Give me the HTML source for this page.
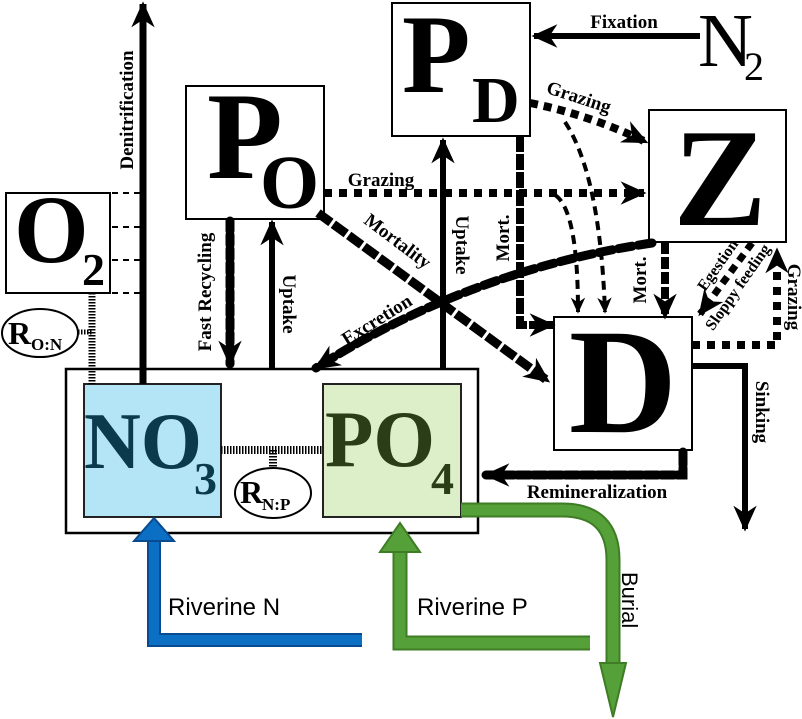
<!DOCTYPE html>
<html><head><meta charset="utf-8"><style>
html,body{margin:0;padding:0;background:#fff;}
svg{display:block;}
.b{font-family:"Liberation Serif",serif;font-weight:bold;}
.l{font-family:"Liberation Serif",serif;font-weight:bold;}
.s{font-family:"Liberation Sans",sans-serif;}
</style></head><body>
<svg width="802" height="719" viewBox="0 0 802 719" xmlns="http://www.w3.org/2000/svg">
<defs>
<marker id="ah" viewBox="0 0 20 20" refX="18" refY="10" markerWidth="26" markerHeight="26" markerUnits="userSpaceOnUse" orient="auto">
<path d="M0,1 L20,10 L0,19 L6,10 Z" fill="#000"/></marker>
<marker id="ahs" viewBox="0 0 20 20" refX="18" refY="10" markerWidth="16" markerHeight="16" markerUnits="userSpaceOnUse" orient="auto">
<path d="M0,1 L20,10 L0,19 L6,10 Z" fill="#000"/></marker>
</defs>

<rect x="66" y="369" width="412" height="164" fill="#fff" stroke="#000" stroke-width="2.5"/>
<rect x="84" y="384" width="137" height="133" fill="#b3e5f7" stroke="#222" stroke-width="2"/>
<rect x="323" y="384" width="138" height="133" fill="#dcefc9" stroke="#222" stroke-width="2"/>
<text x="84" y="468" class="b" font-size="80" fill="#0b3a4c" textLength="118" lengthAdjust="spacingAndGlyphs">NO</text>
<text x="194" y="494" class="b" font-size="46" fill="#0b3a4c">3</text>
<text x="325" y="466" class="b" font-size="80" fill="#2b3d17" textLength="110" lengthAdjust="spacingAndGlyphs">PO</text>
<text x="431" y="494" class="b" font-size="46" fill="#2b3d17">4</text>

<line x1="221" y1="450" x2="323" y2="450" stroke="#000" stroke-width="8" stroke-dasharray="1.5,1.5"/>
<line x1="273" y1="450" x2="273" y2="468" stroke="#000" stroke-width="8" stroke-dasharray="1.5,1.5"/>
<ellipse cx="273" cy="493" rx="38" ry="25" fill="#fff" stroke="#000" stroke-width="2"/>
<text x="240" y="503" class="b" font-size="32">R</text>
<text x="262" y="510" class="b" font-size="17">N:P</text>

<rect x="6" y="193" width="104" height="100" fill="#fff" stroke="#000" stroke-width="2"/>
<text x="14" y="262" class="b" font-size="96">O</text>
<text x="82" y="285" class="b" font-size="46">2</text>
<g stroke="#000" stroke-width="2" stroke-dasharray="6,5">
<line x1="112" y1="193" x2="140" y2="193"/><line x1="112" y1="227" x2="140" y2="227"/>
<line x1="112" y1="260" x2="140" y2="260"/><line x1="112" y1="293" x2="140" y2="293"/></g>
<line x1="92" y1="293" x2="92" y2="384" stroke="#000" stroke-width="7" stroke-dasharray="1.5,1.5"/>
<line x1="78" y1="332" x2="92" y2="332" stroke="#000" stroke-width="5" stroke-dasharray="1.5,1.5"/>
<ellipse cx="40" cy="333" rx="38" ry="24" fill="#fff" stroke="#000" stroke-width="2"/>
<text x="8" y="344" class="b" font-size="32">R</text>
<text x="31" y="350" class="b" font-size="17">O:N</text>

<line x1="143" y1="384" x2="143" y2="4" stroke="#000" stroke-width="7" marker-end="url(#ah)"/>
<text transform="translate(133,110) rotate(-90)" text-anchor="middle" class="l" font-size="19">Denitrification</text>

<rect x="186" y="86" width="138" height="133" fill="#fff" stroke="#000" stroke-width="2"/>
<text x="207" y="178" class="b" font-size="124">P</text>
<text x="260" y="208" class="b" font-size="76">O</text>

<line x1="230" y1="221" x2="230" y2="364" stroke="#000" stroke-width="9" stroke-dasharray="10,4" stroke-linecap="round" marker-end="url(#ah)"/>
<text transform="translate(211,292) rotate(-90)" text-anchor="middle" class="l" font-size="19">Fast Recycling</text>
<line x1="272" y1="369" x2="272" y2="222" stroke="#000" stroke-width="6" marker-end="url(#ah)"/>
<text transform="translate(283,304) rotate(90)" text-anchor="middle" class="l" font-size="19">Uptake</text>

<rect x="392" y="3" width="138" height="133" fill="#fff" stroke="#000" stroke-width="2"/>
<text x="402" y="92" class="b" font-size="112">P</text>
<text x="472" y="122" class="b" font-size="66">D</text>

<text x="698" y="66" font-family="Liberation Serif,serif" font-size="76">N</text>
<text x="744" y="80" font-family="Liberation Serif,serif" font-size="40">2</text>
<line x1="700" y1="36" x2="534" y2="36" stroke="#000" stroke-width="6" marker-end="url(#ah)"/>
<text x="624" y="28" text-anchor="middle" class="l" font-size="19">Fixation</text>

<rect x="649" y="110" width="137" height="132" fill="#fff" stroke="#000" stroke-width="2"/>
<text x="720" y="225" text-anchor="middle" class="b" font-size="140">Z</text>

<rect x="554" y="317" width="138" height="133" fill="#fff" stroke="#000" stroke-width="2"/>
<text x="623" y="432" text-anchor="middle" class="b" font-size="150">D</text>

<line x1="443" y1="369" x2="443" y2="140" stroke="#000" stroke-width="6" marker-end="url(#ah)"/>
<text transform="translate(456,245) rotate(90)" text-anchor="middle" class="l" font-size="19">Uptake</text>

<path d="M520,136 L520,325 L553,325" fill="none" stroke="#000" stroke-width="8" stroke-dasharray="16,2" marker-end="url(#ah)"/>
<text transform="translate(509,238) rotate(-90)" text-anchor="middle" class="l" font-size="19">Mort.</text>

<line x1="324" y1="193" x2="644" y2="193" stroke="#000" stroke-width="8" stroke-dasharray="8,7" marker-end="url(#ah)"/>
<text x="381" y="186" text-anchor="middle" class="l" font-size="19">Grazing</text>

<path d="M530,103 Q590,115 646,142" fill="none" stroke="#000" stroke-width="8" stroke-dasharray="8,6" marker-end="url(#ah)"/>
<text transform="translate(577,103) rotate(18)" text-anchor="middle" class="l" font-size="19">Grazing</text>

<path d="M555,195 Q578,210 578,312" fill="none" stroke="#000" stroke-width="4" stroke-dasharray="9,6" marker-end="url(#ahs)"/>
<path d="M565,122 Q600,175 605,312" fill="none" stroke="#000" stroke-width="4" stroke-dasharray="9,6" marker-end="url(#ahs)"/>

<line x1="318" y1="213" x2="548" y2="381" stroke="#000" stroke-width="9" stroke-dasharray="16,3" marker-end="url(#ah)"/>
<text transform="translate(394,246) rotate(37)" text-anchor="middle" class="l" font-size="19">Mortality</text>

<path d="M652,243 Q470,270 316,368" fill="none" stroke="#000" stroke-width="9" stroke-dasharray="14,6" stroke-linecap="round" marker-end="url(#ah)"/>
<text transform="translate(380,325) rotate(-32)" text-anchor="middle" class="l" font-size="19">Excretion</text>

<line x1="665" y1="242" x2="665" y2="317" stroke="#000" stroke-width="8" stroke-dasharray="12,3" marker-end="url(#ah)"/>
<text transform="translate(646,280) rotate(-90)" text-anchor="middle" class="l" font-size="19">Mort.</text>

<line x1="752" y1="243" x2="700" y2="314" stroke="#000" stroke-width="7" stroke-dasharray="8,6" marker-end="url(#ah)"/>
<text transform="translate(722,268) rotate(-55)" text-anchor="middle" class="l" font-size="16">Egestion</text>
<text transform="translate(742,290) rotate(-55)" text-anchor="middle" class="l" font-size="16">Sloppy feeding</text>

<path d="M692,345 L777,345 L777,250" fill="none" stroke="#000" stroke-width="8" stroke-dasharray="8,7" marker-end="url(#ah)"/>
<text transform="translate(788,297) rotate(90)" text-anchor="middle" class="l" font-size="19">Grazing</text>

<path d="M692,366 L745,366 L745,529" fill="none" stroke="#000" stroke-width="6" marker-end="url(#ah)"/>
<text transform="translate(756,412) rotate(90)" text-anchor="middle" class="l" font-size="19">Sinking</text>

<path d="M683,452 L683,475 L486,475" fill="none" stroke="#000" stroke-width="9" stroke-dasharray="13,3" stroke-linecap="round" marker-end="url(#ah)"/>
<text x="597" y="498" text-anchor="middle" class="l" font-size="19">Remineralization</text>

<path d="M362,640 L154,640 L154,540" fill="none" stroke="#0a4a8f" stroke-width="14"/>
<path d="M362,640 L154,640 L154,540" fill="none" stroke="#0b6fc4" stroke-width="10"/>
<path d="M134,541 L154,518 L174,541 Z" fill="#0b6fc4" stroke="#0a4a8f" stroke-width="2"/>
<text x="168" y="615" class="s" font-size="24">Riverine N</text>

<path d="M590,643 L400,643 L400,550" fill="none" stroke="#3e7d25" stroke-width="15"/>
<path d="M590,643 L400,643 L400,550" fill="none" stroke="#55a038" stroke-width="11"/>
<path d="M380,552 L400,523 L420,552 Z" fill="#55a038" stroke="#3e7d25" stroke-width="2"/>
<text x="417" y="615" class="s" font-size="24">Riverine P</text>

<path d="M461,510 L562,510 Q613,510 613,560 L613,665" fill="none" stroke="#3e7d25" stroke-width="15"/>
<path d="M461,510 L562,510 Q613,510 613,560 L613,665" fill="none" stroke="#55a038" stroke-width="11"/>
<path d="M600,663 L613,717 L626,663 Z" fill="#55a038" stroke="#3e7d25" stroke-width="2"/>
<text transform="translate(622,572) rotate(90)" class="s" font-size="22">Burial</text>
</svg>
</body></html>
